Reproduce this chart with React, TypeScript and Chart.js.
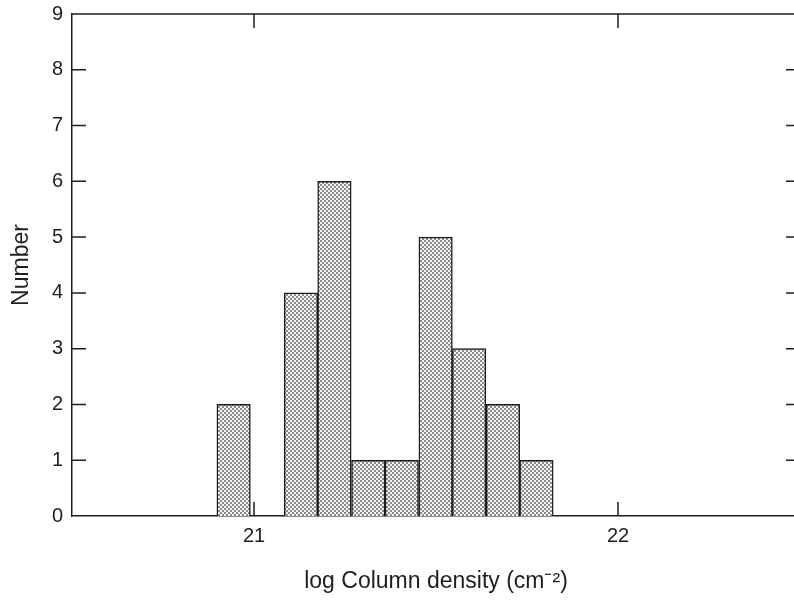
import { useEffect, useRef } from "react";
import { Chart, registerables } from "chart.js";
Chart.register(...registerables);

// Histogram bins (centres of log N bins) and counts
const binCenters = [20.944, 21.036, 21.129, 21.221, 21.314, 21.406, 21.499, 21.591, 21.684, 21.776];
const counts: (number | null)[] = [2, null, 4, 6, 1, 1, 5, 3, 2, 1];
const xTickValues = [21, 22];
const yTickValues = [0, 1, 2, 3, 4, 5, 6, 7, 8, 9];
const xTitle = "log Column density (cm\u207B\u00B2)";
const yTitle = "Number";

const FONT = "'Liberation Sans', Arial, Helvetica, sans-serif";
const INK = "#1e1e1e";

const framePlugin = {
  id: "frameTicks",
  afterDraw(chart: any) {
    const { ctx, chartArea } = chart;
    const { left, right, top, bottom } = chartArea;
    const xs = chart.scales.x;
    const ys = chart.scales.y;
    const tl = 14;
    ctx.save();
    ctx.strokeStyle = INK;
    ctx.lineWidth = 1.5;
    ctx.beginPath();
    ctx.moveTo(left, top);
    ctx.lineTo(right, top);
    ctx.lineTo(right, bottom);
    ctx.stroke();
    ctx.beginPath();
    for (const v of yTickValues) {
      if (v === ys.min || v === ys.max) continue;
      const y = ys.getPixelForValue(v);
      ctx.moveTo(left, y);
      ctx.lineTo(left + tl, y);
      ctx.moveTo(right, y);
      ctx.lineTo(right - tl, y);
    }
    for (const v of xTickValues) {
      const x = xs.getPixelForValue(v);
      ctx.moveTo(x, bottom);
      ctx.lineTo(x, bottom - tl);
      ctx.moveTo(x, top);
      ctx.lineTo(x, top + tl);
    }
    ctx.stroke();
    ctx.restore();
  },
};

export default function App() {
  const ref = useRef<HTMLCanvasElement | null>(null);
  useEffect(() => {
    document.body.style.margin = "0";
    document.body.style.overflow = "hidden";
    const canvas = ref.current!;
    const ctx = canvas.getContext("2d")!;
    const pc = document.createElement("canvas");
    pc.width = 4;
    pc.height = 4;
    const p = pc.getContext("2d")!;
    p.fillStyle = "#f4f4f4";
    p.fillRect(0, 0, 4, 4);
    p.fillStyle = "#8c8c8c";
    p.fillRect(0, 0, 2, 2);
    p.fillRect(2, 2, 2, 2);
    const pattern = ctx.createPattern(pc, "repeat")!;

    const chart = new Chart(canvas, {
      type: "bar",
      data: {
        datasets: [
          {
            data: binCenters.map((x, i) => ({ x, y: counts[i] })) as any,
            backgroundColor: pattern as any,
            borderColor: INK,
            borderWidth: 1.5,
            barPercentage: 1,
            categoryPercentage: 1,
          },
        ],
      },
      options: {
        responsive: false,
        animation: false,
        layout: { padding: { left: 0, top: 14, right: 8, bottom: 0 } },
        plugins: { legend: { display: false }, tooltip: { enabled: false } },
        scales: {
          x: {
            type: "linear",
            min: 20.5,
            max: 22.5,
            offset: false,
            grid: { display: false, drawTicks: false },
            border: { display: true, color: INK, width: 1.5 },
            afterBuildTicks: (s: any) => {
              s.ticks = xTickValues.map((v) => ({ value: v }));
            },
            afterFit: (s: any) => {
              s.height = 85;
            },
            ticks: {
              padding: 8,
              color: INK,
              font: { family: FONT, size: 20 },
              callback: (v: any) => String(v),
            },
            title: {
              display: true,
              text: xTitle,
              color: INK,
              font: { family: FONT, size: 23 },
              padding: { top: 0, bottom: 6 },
            },
          },
          y: {
            min: 0,
            max: 9,
            grid: { display: false, drawTicks: false },
            border: { display: true, color: INK, width: 1.5 },
            afterBuildTicks: (s: any) => {
              s.ticks = yTickValues.map((v) => ({ value: v }));
            },
            afterFit: (s: any) => {
              s.width = 72;
              s.paddingTop = 0;
            },
            ticks: {
              padding: 9,
              color: INK,
              font: { family: FONT, size: 20 },
            },
            title: {
              display: true,
              text: yTitle,
              color: INK,
              font: { family: FONT, size: 23 },
              padding: { top: 8, bottom: 0 },
            },
          },
        },
      },
      plugins: [framePlugin],
    });
    return () => chart.destroy();
  }, []);
  return <canvas ref={ref} width={808} height={601} style={{ display: "block" }} />;
}
